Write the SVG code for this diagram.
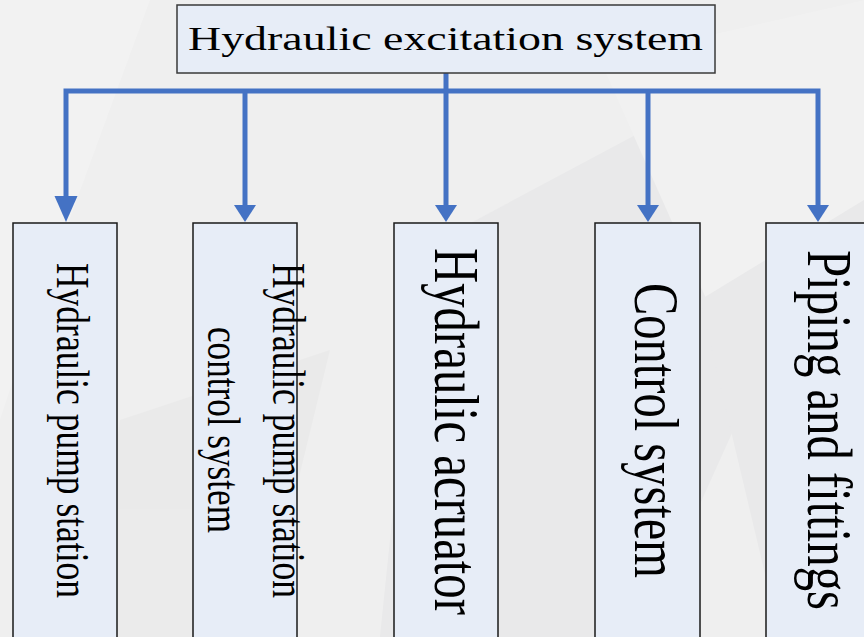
<svg xmlns="http://www.w3.org/2000/svg" width="864" height="637" viewBox="0 0 864 637">
  <defs>
    <style>
      .node rect { fill: #E7EDF7; stroke: #1a1a1a; stroke-width: 1.5; }
      .top rect { stroke: #3a3a3a; }
      .lbl { font-family: "Liberation Serif", "DejaVu Serif", serif; fill: #000; }
      .conn line, .conn polyline { stroke: #4472C4; stroke-width: 5; fill: none; }
      .conn polygon { fill: #4472C4; stroke: none; }
      .bg { stroke: none; }
    </style>
  </defs>

  <!-- background -->
  <rect x="0" y="0" width="864" height="637" fill="#EFEFEF"/>
  <g id="background" opacity="0.45">
    <polygon class="bg" points="0,0 150,0 40,300 0,420" fill="#F6F6F6"/>
    <polygon class="bg" points="420,250 720,90 864,140 640,637 380,637" fill="#E2E2E4"/>
    <polygon class="bg" points="600,60 864,0 864,300 760,420" fill="#F4F4F4"/>
    <polygon class="bg" points="120,420 330,350 260,637 90,637" fill="#E6E6E6"/>
    <polygon class="bg" points="700,300 864,200 864,637 780,637" fill="#E2E2E4"/>
  </g>

  <!-- connectors -->
  <g id="connectors" class="conn">
    <line x1="446" y1="73" x2="446" y2="205"/>
    <polyline points="66,196 66,91 818,91 818,205"/>
    <line x1="245" y1="91" x2="245" y2="205"/>
    <line x1="648" y1="91" x2="648" y2="205"/>
    <polygon points="54.5,196 77.5,196 66,222"/>
    <polygon points="234,205 256,205 245,222"/>
    <polygon points="435,205 457,205 446,222"/>
    <polygon points="637,205 659,205 648,222"/>
    <polygon points="807,205 829,205 818,222"/>
  </g>

  <!-- top node -->
  <g id="node-root" class="node top">
    <rect x="177" y="5" width="538" height="68"/>
    <text class="lbl" x="188" y="50" font-size="33" textLength="515" lengthAdjust="spacingAndGlyphs">Hydraulic excitation system</text>
  </g>

  <g id="node-pump-station" class="node">
    <rect x="13" y="223" width="104" height="420"/>
    <text class="lbl" transform="translate(57,263) rotate(90)" font-size="47" textLength="335" lengthAdjust="spacingAndGlyphs">Hydraulic pump station</text>
  </g>

  <g id="node-pump-control" class="node">
    <rect x="193" y="223" width="104" height="420"/>
    <text class="lbl" transform="translate(273,263) rotate(90)" font-size="47" textLength="335" lengthAdjust="spacingAndGlyphs">Hydraulic pump station</text>
    <text class="lbl" transform="translate(208,327) rotate(90)" font-size="47" textLength="206" lengthAdjust="spacingAndGlyphs">control system</text>
  </g>

  <g id="node-actuator" class="node">
    <rect x="394" y="223" width="104" height="420"/>
    <text class="lbl" transform="translate(435,248) rotate(90)" font-size="63" textLength="367" lengthAdjust="spacingAndGlyphs">Hydraulic acruator</text>
  </g>

  <g id="node-control" class="node">
    <rect x="595" y="223" width="105" height="420"/>
    <text class="lbl" transform="translate(635,283) rotate(90)" font-size="63" textLength="295" lengthAdjust="spacingAndGlyphs">Control system</text>
  </g>

  <g id="node-piping" class="node">
    <rect x="766" y="223" width="110" height="420"/>
    <text class="lbl" transform="translate(808,250) rotate(90)" font-size="63" textLength="360" lengthAdjust="spacingAndGlyphs">Piping and fittings</text>
  </g>
</svg>
